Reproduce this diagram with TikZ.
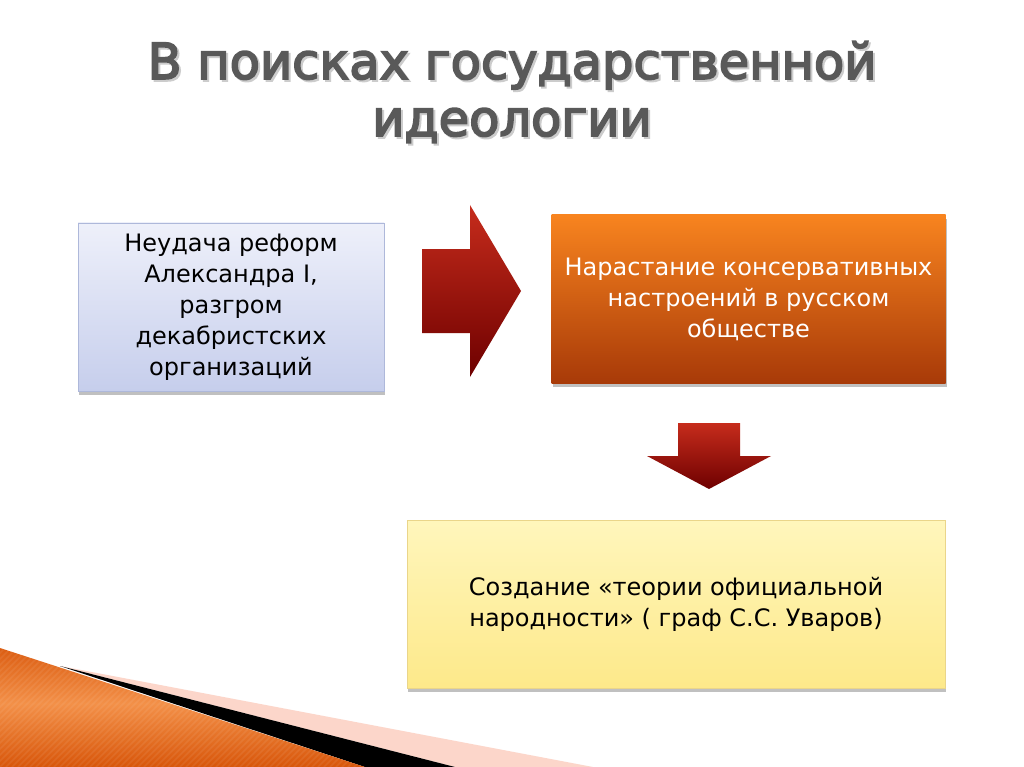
\documentclass[tikz,border=0pt]{standalone}
\usepackage{fontspec}
\setmainfont{DejaVu Sans}
\newfontfamily\titlefont[FakeBold=3.5]{DejaVu Sans}
\usetikzlibrary{shadows}
\definecolor{titlegray}{HTML}{595959}
\definecolor{blueTop}{HTML}{EEF0FA}
\definecolor{blueBot}{HTML}{C6CEEC}
\definecolor{blueLine}{HTML}{AEB8DA}
\definecolor{orTop}{HTML}{F8841F}
\definecolor{orBot}{HTML}{A83A08}
\definecolor{yeTop}{HTML}{FFF6BC}
\definecolor{yeBot}{HTML}{FDE98A}
\definecolor{yeLine}{HTML}{EAD58A}
\definecolor{arTop}{HTML}{C62C1C}
\definecolor{arBot}{HTML}{6E0000}
\definecolor{bandDark}{HTML}{D8560A}
\definecolor{bandLight}{HTML}{F39048}
\definecolor{pinkband}{HTML}{FCD6CA}
\newcommand{\shadowline}[1]{\leavevmode\rlap{\hspace{2pt}\raisebox{-2pt}{\textcolor{black!20}{#1}}}#1}
\tikzset{
  box/.style={rectangle, inner sep=0pt, align=center,
    font=\fontsize{24pt}{31pt}\selectfont,
    drop shadow={shadow xshift=1pt, shadow yshift=-4pt, opacity=0.35, fill=black!70}},
  bluebox/.style={box, top color=blueTop, bottom color=blueBot, draw=blueLine, line width=0.6pt, text=black},
  orangebox/.style={box, top color=orTop, bottom color=orBot, draw=none, text=white},
  yellowbox/.style={box, top color=yeTop, bottom color=yeBot, draw=yeLine, line width=0.6pt, text=black},
  redarrow/.style={top color=arTop, bottom color=arBot, draw=none},
  titletext/.style={font=\titlefont\fontsize{49.5pt}{57pt}\selectfont, align=center}
}
\begin{document}
\begin{tikzpicture}[x=1pt, y=-1pt]
\useasboundingbox (0,0) rectangle (1024,767);
\fill[white] (0,0) rectangle (1024,767);

% title with soft shadow
\node[titletext, text=titlegray] (title) at (512,93)
  {\shadowline{В поисках государственной}\\\shadowline{идеологии}};

% boxes
\node[bluebox, minimum width=306pt, minimum height=168pt] (cause) at (231,307)
  {Неудача реформ\\Александра I,\\разгром\\декабристских\\организаций};
\node[orangebox, minimum width=394pt, minimum height=168pt] (mood) at (748.5,299)
  {Нарастание консервативных\\настроений в русском\\обществе};
\node[yellowbox, minimum width=538pt, minimum height=168pt] (theory) at (676,604)
  {Создание «теории официальной\\народности» ( граф С.С. Уваров)};

% right arrow
\shade[redarrow] (422,249) -- (470,249) -- (470,205) -- (521,291) -- (470,377)
  -- (470,333) -- (422,333) -- cycle;
% down arrow
\shade[redarrow] (678,423) -- (740,423) -- (740,456) -- (771,456) -- (709,489)
  -- (647,456) -- (678,456) -- cycle;

% bottom-left decoration
\fill[pinkband] (60,666) -- (593,767) -- (455,767) -- cycle;
\fill[black] (60,666) -- (455,767) -- (365,767) -- cycle;
\begin{scope}
\clip (0,648) -- (60,667.5) -- (365,767) -- (0,767) -- cycle;
\shade[left color=bandDark, right color=bandDark, middle color=bandLight, shading angle=0]
  (0,640) rectangle (370,767);
\foreach \k in {-300,-294,...,400}
  \draw[white, opacity=0.07, line width=1.5pt] (\k,767) -- ++(130,-130);
\end{scope}
\end{tikzpicture}
\end{document}
